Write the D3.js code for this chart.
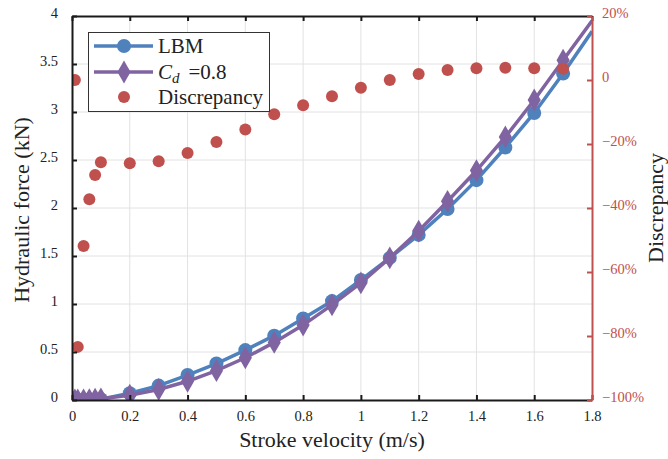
<!DOCTYPE html>
<html>
<head>
<meta charset="utf-8">
<script src="https://cdn.jsdelivr.net/npm/d3@7"></script>
<style>
  body { margin: 0; background: #fff; }
  svg text { font-family: "Liberation Serif", "DejaVu Serif", serif !important; }
</style>
</head>
<body>
<svg id="chart" width="668" height="459"></svg>
<script>
// stroke velocity (m/s)
const velocity = [0.01, 0.02, 0.04, 0.06, 0.08, 0.1, 0.2, 0.3, 0.4, 0.5, 0.6, 0.7, 0.8, 0.9, 1.0, 1.1, 1.2, 1.3, 1.4, 1.5, 1.6, 1.7, 1.8];
// hydraulic force (kN)
const lbm = [0, 0.001, 0.002, 0.004, 0.006, 0.009, 0.07, 0.15, 0.26, 0.38, 0.52, 0.67, 0.85, 1.03, 1.25, 1.48, 1.72, 1.99, 2.29, 2.63, 2.99, 3.40, 3.84];
const cd08 = [0.0001, 0.0005, 0.002, 0.004, 0.008, 0.012, 0.05, 0.11, 0.195, 0.305, 0.44, 0.60, 0.78, 0.99, 1.22, 1.48, 1.76, 2.07, 2.39, 2.74, 3.125, 3.54, 3.95];
// discrepancy (%), one per velocity up to 1.7
const discrepancy = [0, -83.4, -51.9, -37.3, -29.7, -25.7, -26, -25.4, -22.8, -19.4, -15.5, -10.7, -7.9, -5.1, -2.4, 0, 1.9, 3.1, 3.7, 3.8, 3.7, 3.5];

const xTicks = [0, 0.2, 0.4, 0.6, 0.8, 1, 1.2, 1.4, 1.6, 1.8];
const yTicks = [0, 0.5, 1, 1.5, 2, 2.5, 3, 3.5, 4];
const y2Ticks = [-100, -80, -60, -40, -20, 0, 20];

const blue = "#4f81bd", purple = "#8064a2", red = "#c0504d";

const svg = d3.select("#chart");
const x = d3.scaleLinear([0, 1.8], [72, 592]);
const y = d3.scaleLinear([0, 4], [400, 16]);
const y2 = d3.scaleLinear([-100, 20], [400, 16]);

svg.append("clipPath").attr("id", "plotclip")
  .append("rect").attr("x", 72).attr("y", 16).attr("width", 520).attr("height", 384);

// grid
const grid = svg.append("g").attr("stroke", "#e2e2e2").attr("stroke-width", 1);
grid.selectAll(".vx").data(xTicks.slice(1, -1)).join("line")
  .attr("x1", d => x(d)).attr("x2", d => x(d)).attr("y1", 16).attr("y2", 400);
grid.selectAll(".hy").data(yTicks.slice(1, -1)).join("line")
  .attr("x1", 72).attr("x2", 592).attr("y1", d => y(d)).attr("y2", d => y(d));

// series
const plot = svg.append("g").attr("clip-path", "url(#plotclip)");
const line = d3.line().x(d => x(d[0])).y(d => y(d[1]));
const lbmPts = velocity.map((v, i) => [v, lbm[i]]);
const cdPts = velocity.map((v, i) => [v, cd08[i]]);

plot.append("path").datum(lbmPts).attr("d", line)
  .attr("fill", "none").attr("stroke", blue).attr("stroke-width", 3.5);
plot.selectAll(".lbm").data(lbmPts.filter(d => d[0] < 1.8)).join("circle")
  .attr("cx", d => x(d[0])).attr("cy", d => y(d[1])).attr("r", 7).attr("fill", blue);

const diamond = d3.symbol().type(d3.symbolDiamond).size(150);
plot.append("path").datum(cdPts).attr("d", line)
  .attr("fill", "none").attr("stroke", purple).attr("stroke-width", 3.5);
plot.selectAll(".cd").data(cdPts.filter(d => d[0] < 1.8)).join("path")
  .attr("d", diamond).attr("transform", d => `translate(${x(d[0])},${y(d[1])})`).attr("fill", purple);

plot.selectAll(".disc").data(discrepancy).join("circle")
  .attr("cx", (d, i) => x(velocity[i])).attr("cy", d => y2(d)).attr("r", 6).attr("fill", red);

// axes
const fmt = d3.format("~g");
function styleAxis(g, color, textColor) {
  g.attr("font-family", null);
  g.select(".domain").attr("stroke", color).attr("stroke-width", 2);
  g.selectAll(".tick line").attr("stroke", color).attr("stroke-width", 2);
  g.selectAll(".tick text").attr("fill", textColor).attr("font-size", 14.5);
}
svg.append("g").attr("transform", "translate(0,400)")
  .call(d3.axisBottom(x).tickValues(xTicks).tickFormat(fmt).tickSize(-5).tickSizeOuter(0).tickPadding(11))
  .call(g => styleAxis(g, "#1a1a1a", "#222"));
svg.append("g").attr("transform", "translate(0,16)")
  .call(d3.axisTop(x).tickValues(xTicks).tickFormat("").tickSize(-5).tickSizeOuter(0))
  .call(g => styleAxis(g, "#1a1a1a", "#222"));
svg.append("g").attr("transform", "translate(72,0)")
  .call(d3.axisLeft(y).tickValues(yTicks).tickFormat(fmt).tickSize(-5).tickSizeOuter(0).tickPadding(14))
  .call(g => styleAxis(g, "#1a1a1a", "#222"))
  .call(g => g.selectAll(".tick text").attr("dy", "0.1em"));
svg.append("g").attr("transform", "translate(592,0)")
  .call(d3.axisRight(y2).tickValues(y2Ticks).tickSize(-5).tickSizeOuter(0).tickPadding(10)
    .tickFormat(d => d === 0 ? "0" : (d < 0 ? "\u2212" : "") + Math.abs(d) + "%"))
  .call(g => styleAxis(g, red, red))
  .call(g => g.selectAll(".tick text").attr("dy", "0.1em"));

// axis titles
svg.append("text").attr("x", 332).attr("y", 447).attr("text-anchor", "middle")
  .attr("font-size", 22).attr("fill", "#222").text("Stroke velocity (m/s)");
svg.append("text").attr("transform", "translate(29,210) rotate(-90)").attr("text-anchor", "middle")
  .attr("font-size", 22).attr("fill", "#222").text("Hydraulic force (kN)");
svg.append("text").attr("transform", "translate(663,208) rotate(-90)").attr("text-anchor", "middle")
  .attr("font-size", 22).attr("fill", "#222").text("Discrepancy");

// legend
const lg = svg.append("g");
lg.append("rect").attr("x", 88.5).attr("y", 32.5).attr("width", 181).attr("height", 79)
  .attr("fill", "#fff").attr("stroke", "#333").attr("stroke-width", 1);
const rows = [46, 72, 97];
lg.append("line").attr("x1", 94).attr("x2", 153).attr("y1", rows[0]).attr("y2", rows[0])
  .attr("stroke", blue).attr("stroke-width", 3.5);
lg.append("circle").attr("cx", 124).attr("cy", rows[0]).attr("r", 7).attr("fill", blue);
lg.append("line").attr("x1", 94).attr("x2", 153).attr("y1", rows[1]).attr("y2", rows[1])
  .attr("stroke", purple).attr("stroke-width", 3.5);
lg.append("path").attr("d", diamond).attr("transform", `translate(124,${rows[1]})`).attr("fill", purple);
lg.append("circle").attr("cx", 124).attr("cy", rows[2]).attr("r", 6).attr("fill", red);

lg.append("text").attr("x", 158).attr("y", rows[0] + 7).attr("font-size", 21).attr("fill", "#222").text("LBM");
const cdText = lg.append("text").attr("x", 158).attr("y", rows[1] + 7).attr("font-size", 21).attr("fill", "#222");
cdText.append("tspan").attr("font-style", "italic").text("C");
cdText.append("tspan").attr("font-style", "italic").attr("font-size", 15).attr("dy", 4).text("d");
cdText.append("tspan").attr("dy", -4).attr("dx", 9).text("=0.8");
lg.append("text").attr("x", 158).attr("y", rows[2] + 7).attr("font-size", 21).attr("fill", "#222").text("Discrepancy");
</script>
</body>
</html>
